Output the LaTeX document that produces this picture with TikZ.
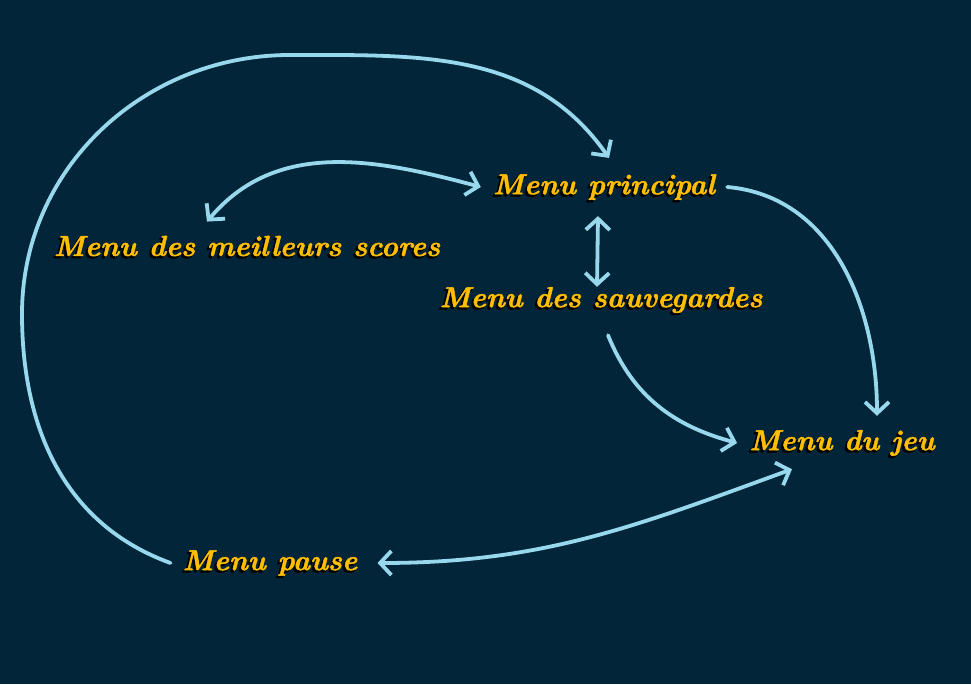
\documentclass[tikz,border=0pt]{standalone}
\usepackage{fontspec}
\usetikzlibrary{arrows.meta,positioning}
\newfontfamily\menufont{lmroman10-bolditalic.otf}[FakeBold=1.6]
\newfontfamily\shadefont{lmroman10-bolditalic.otf}[FakeBold=3]
\definecolor{navy}{RGB}{2,37,58}
\definecolor{gold}{RGB}{255,190,0}
\definecolor{sky}{RGB}{152,216,236}
\tikzset{
	menu/.style={text=gold,inner xsep=0.3cm,inner ysep=0.1cm,font=\fontsize{20.5}{24}\menufont},
	shade/.style={menu,text=black,xshift=-1.5pt,yshift=-1.5pt,font=\fontsize{20.5}{24}\shadefont},
	link/.style={draw=sky,line width=2.7pt,line cap=round},
	>={Straight Barb[length=2.8mm,width=6mm]}
}

\begin{document}
\begin{tikzpicture}[x=0.025cm,y=0.025cm]
	\fill[navy] (0,0) rectangle (971,684);
	\node[shade] (princ-s) at (604,497) {Menu principal};
	\node[menu] (princ) at (604,497) {Menu principal};
	\node[shade] (scores-s) at (247,438) {Menu des meilleurs scores};
	\node[menu] (scores) at (247,438) {Menu des meilleurs scores};
	\node[shade] (savs-s) at (601,384) {Menu des sauvegardes};
	\node[menu] (savs) at (601,384) {Menu des sauvegardes};
	\node[shade] (jeu-s) at (842,241) {Menu du jeu};
	\node[menu] (jeu) at (842,241) {Menu du jeu};
	\node[shade] (pause-s) at (270,121) {Menu pause};
	\node[menu] (pause) at (270,121) {Menu pause};
	\coordinate (loopw) at (22,370);
	\coordinate (loopn) at (290,629);

	\draw[link,->] (pause.west) to[out=160,in=270] (loopw) to[out=90,in=180] (loopn) to[out=0,in=125] ([xshift=0.125cm,yshift=0.3cm]princ.north);
	\draw[link,<->] ([xshift=-1cm,yshift=0.25cm]scores.north) to[out=50,in=165] (princ.west);
	\draw[link,<->] ([xshift=-0.15cm,yshift=-0.3cm]princ.south) -- ([xshift=-0.1cm,yshift=-0.1cm]savs.north);
	\draw[link,->] (princ.east) to[out=-5,in=90] ([xshift=0.875cm,yshift=0.25cm]jeu.north);
	\draw[link,->] ([xshift=0.175cm,yshift=-0.45cm]savs.south) to[out=-68,in=165] (jeu.west);
	\draw[link,<->] ([xshift=0.2cm]pause.east) to[out=0,in=200] ([xshift=-1.25cm,yshift=-0.225cm]jeu.south);
\end{tikzpicture}
\end{document}
